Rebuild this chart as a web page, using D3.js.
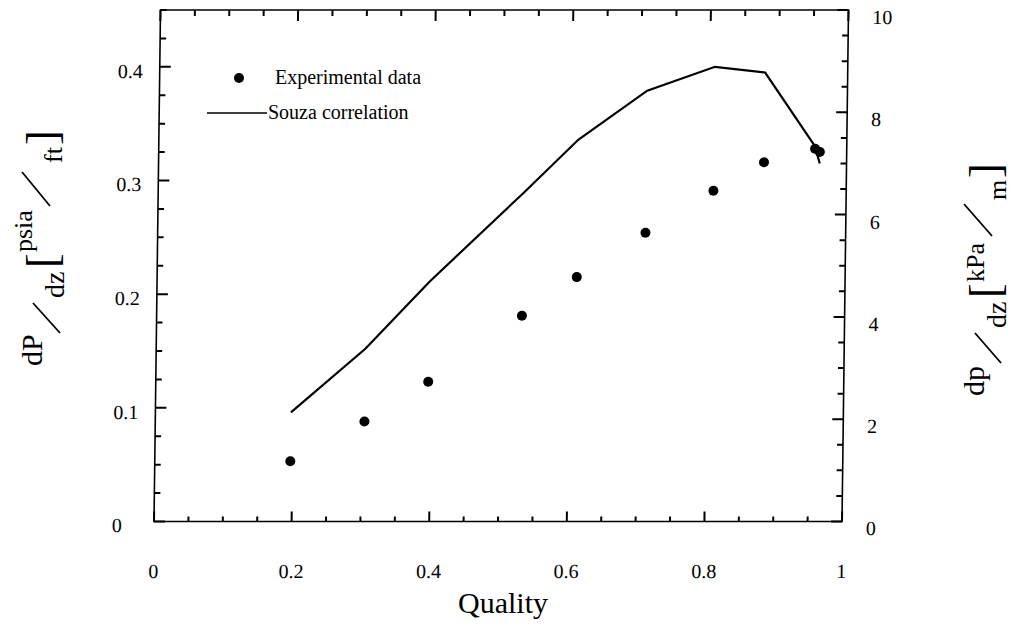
<!DOCTYPE html>
<html><head><meta charset="utf-8">
<script src="https://cdn.jsdelivr.net/npm/d3@7"></script>
<style>
body{margin:0;background:#fff}
svg{display:block}
text{font-family:"Liberation Serif","Times New Roman",serif;fill:#000}
</style>
</head><body>
<svg id="chart" width="1014" height="626"></svg>
<script>
// ---- data ----
const expQuality   = [0.197, 0.304, 0.396, 0.531, 0.610, 0.709, 0.807, 0.880, 0.954, 0.961];
const expGradient  = [0.053, 0.088, 0.123, 0.181, 0.215, 0.254, 0.291, 0.316, 0.328, 0.325]; // psia/ft
const souzaQuality = [0.197, 0.304, 0.396, 0.531, 0.610, 0.709, 0.807, 0.880, 0.954, 0.961];
const souzaGradient= [0.096, 0.152, 0.211, 0.289, 0.336, 0.379, 0.400, 0.395, 0.330, 0.315]; // psia/ft
const xTickValues  = [0, 0.2, 0.4, 0.6, 0.8, 1];
const xTickLabels  = ["0", "0.2", "0.4", "0.6", "0.8", "1"];
const yLeftTickValues = [0, 0.1, 0.2, 0.3, 0.4];
const yLeftTickLabels = ["0", "0.1", "0.2", "0.3", "0.4"];
const yRightTickValues = [0, 2, 4, 6, 8, 10];
const yRightTickLabels = ["0", "2", "4", "6", "8", "10"];
const legendLabels = ["Experimental data", "Souza correlation"];

// ---- layout ----
const svg = d3.select("#chart");
const X0 = 154, X1 = 842, YB = 521.5, YT = 10;
const x = d3.scaleLinear().domain([0, 1]).range([X0, X1]);
const yL = d3.scaleLinear().domain([0, 0.45]).range([YB, YT]);
const yR = d3.scaleLinear().domain([0, 10]).range([YB, YT]);

// slight skew of the scanned figure
const k = -6.5 / 512;
const root = svg.append("g").attr("transform", `matrix(1,0,${k},1,${-k * YB},0)`);

// frame
root.append("rect").attr("x", X0).attr("y", YT).attr("width", X1 - X0).attr("height", YB - YT)
  .attr("fill", "none").attr("stroke", "#000").attr("stroke-width", 1.6);

// inward ticks drawn through the scales, as one path
const xMinor = d3.range(0, 1.0001, 0.05);
const yLMinor = d3.range(0, 0.4501, 0.025);
const yRMinor = d3.range(0, 10.001, 0.5);
const isMajorX = v => Math.abs(v * 5 - Math.round(v * 5)) < 1e-6;
const isMajorL = v => Math.abs(v * 10 - Math.round(v * 10)) < 1e-6;
const isMajorR = v => Math.abs(v / 2 - Math.round(v / 2)) < 1e-6;
const p = d3.path();
xMinor.forEach(v => {
  const px = x(v);
  p.moveTo(px, YB); p.lineTo(px, YB - (isMajorX(v) ? 10 : 5));
  p.moveTo(px, YT); p.lineTo(px, YT + (isMajorX(v) ? 11 : 6));
});
yLMinor.forEach(v => { const py = yL(v); p.moveTo(X0, py); p.lineTo(X0 + (isMajorL(v) ? 11 : 6), py); });
yRMinor.forEach(v => { const py = yR(v); p.moveTo(X1, py); p.lineTo(X1 - (isMajorR(v) ? 11 : 6), py); });
root.append("path").attr("d", p.toString()).attr("fill", "none").attr("stroke", "#000").attr("stroke-width", 2);

// tick labels
root.append("g").selectAll("text").data(xTickValues).join("text")
  .attr("x", d => x(d)).attr("y", 578).attr("text-anchor", "middle").attr("font-size", 20)
  .text((d, i) => xTickLabels[i]);
root.append("g").selectAll("text").data(yLeftTickValues).join("text")
  .attr("x", 112).attr("y", d => yL(d) + 11).attr("font-size", 20)
  .text((d, i) => yLeftTickLabels[i]);
root.append("g").selectAll("text").data(yRightTickValues).join("text")
  .attr("x", 866).attr("y", d => yR(d) + 14).attr("font-size", 20)
  .text((d, i) => yRightTickLabels[i]);

// series
const line = d3.line().x(d => x(d[0])).y(d => yL(d[1]));
root.append("path").datum(d3.zip(souzaQuality, souzaGradient)).attr("d", line)
  .attr("fill", "none").attr("stroke", "#000").attr("stroke-width", 2.2).attr("stroke-linejoin", "miter");
root.append("g").selectAll("circle").data(d3.zip(expQuality, expGradient)).join("circle")
  .attr("cx", d => x(d[0])).attr("cy", d => yL(d[1])).attr("r", 5).attr("fill", "#000");

// ---- screen-space annotations (not skewed) ----
const ann = svg.append("g");
// legend
ann.append("circle").attr("cx", 239).attr("cy", 78).attr("r", 5).attr("fill", "#000");
ann.append("text").attr("x", 275).attr("y", 84).attr("font-size", 20).text(legendLabels[0]);
ann.append("line").attr("x1", 207).attr("x2", 267).attr("y1", 113).attr("y2", 113).attr("stroke", "#000").attr("stroke-width", 1.6);
ann.append("text").attr("x", 268).attr("y", 118.5).attr("font-size", 20).text(legendLabels[1]);

// x title
ann.append("text").attr("x", 503).attr("y", 613).attr("text-anchor", "middle").attr("font-size", 30).text("Quality");

// rotated titles: text pieces [text, screenY start, screenX baseline, size] and slashes [Y1,X1,Y2,X2]
function title(pieces, slashes) {
  const g = ann.append("g").attr("transform", "rotate(-90)");
  pieces.forEach(q => g.append("text").attr("x", -q[1]).attr("y", q[2]).attr("font-size", q[3]).text(q[0]));
  slashes.forEach(s => g.append("line").attr("x1", -s[0]).attr("y1", s[1]).attr("x2", -s[2]).attr("y2", s[3])
    .attr("stroke", "#000").attr("stroke-width", 1.8));
}
title([
  ["dP", 366, 42, 30], ["dz", 298, 64, 28], ["[", 268, 57, 44],
  ["psia", 252, 32, 26], ["ft", 163, 62, 26], ["]", 145, 57, 44]
], [[333, 60, 303, 33], [206, 50, 172, 22]]);
title([
  ["dp", 396, 984, 30], ["dz", 328, 1006, 28], ["[", 298, 1000, 44],
  ["kPa", 282, 984, 26], ["m", 200, 1006, 26], ["]", 178, 1000, 44]
], [[363, 1001, 333, 975], [236, 992, 204, 964]]);
</script>
</body></html>
